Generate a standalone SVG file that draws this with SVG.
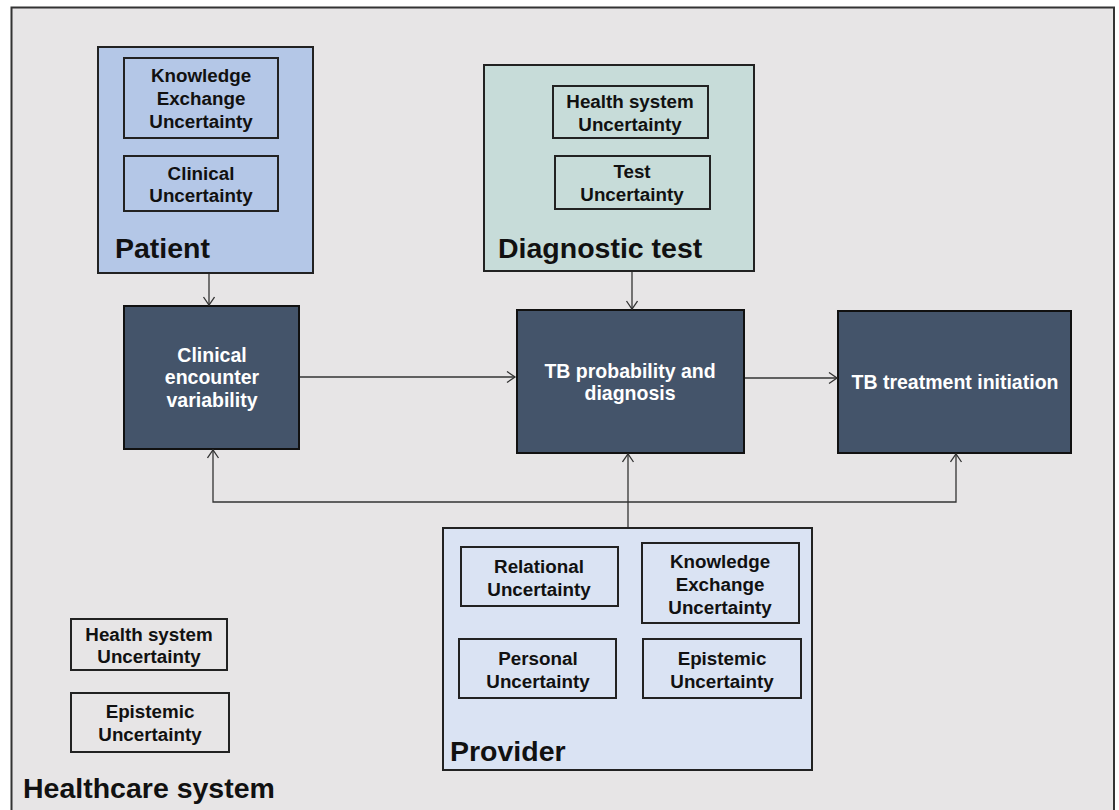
<svg xmlns="http://www.w3.org/2000/svg" width="1119" height="810" viewBox="0 0 1119 810">
<style>
.t{font-family:"Liberation Sans",Arial,sans-serif;font-weight:bold;text-anchor:middle;fill:#111}
.s{font-size:18.8px}
.w{font-size:19.5px;fill:#fff}
.h{font-family:"Liberation Sans",Arial,sans-serif;font-weight:bold;font-size:28.5px;fill:#111}
.inner{fill:none;stroke:#222;stroke-width:2}
.dark{fill:#44546a;stroke:#111;stroke-width:2}
.c{fill:none;stroke:#333;stroke-width:1.3}
</style>
<defs>
<marker id="arr" markerUnits="userSpaceOnUse" markerWidth="14" markerHeight="14" refX="10" refY="6" orient="auto">
<path d="M2,0.5 L10,6 L2,11.5" fill="none" stroke="#333" stroke-width="1.3"/>
</marker>
</defs>
<rect x="0" y="0" width="1119" height="810" fill="#ffffff"/>
<g id="healthcare-system">
<rect x="11.5" y="7.5" width="1102.5" height="812" fill="#e7e5e6" stroke="#333" stroke-width="2"/>
<rect class="inner" x="71" y="619" width="156" height="51"/>
<text class="t s" x="149" y="641">Health system</text>
<text class="t s" x="149" y="663">Uncertainty</text>
<rect class="inner" x="71" y="693" width="158" height="59"/>
<text class="t s" x="150" y="718">Epistemic</text>
<text class="t s" x="150" y="741">Uncertainty</text>
<text class="h" x="23" y="798">Healthcare system</text>
</g>
<g id="patient">
<rect x="98" y="47" width="215" height="226" fill="#b4c7e7" stroke="#222" stroke-width="2"/>
<rect class="inner" x="124" y="58" width="154" height="80"/>
<text class="t s" x="201" y="82">Knowledge</text>
<text class="t s" x="201" y="105">Exchange</text>
<text class="t s" x="201" y="128">Uncertainty</text>
<rect class="inner" x="124" y="156" width="154" height="55"/>
<text class="t s" x="201" y="180">Clinical</text>
<text class="t s" x="201" y="202">Uncertainty</text>
<text class="h" x="115" y="258">Patient</text>
</g>
<g id="diagnostic-test">
<rect x="484" y="65" width="270" height="206" fill="#c7dcd9" stroke="#222" stroke-width="2"/>
<rect class="inner" x="553" y="86" width="155" height="52"/>
<text class="t s" x="630" y="108">Health system</text>
<text class="t s" x="630" y="131">Uncertainty</text>
<rect class="inner" x="555" y="156" width="155" height="53"/>
<text class="t s" x="632" y="178">Test</text>
<text class="t s" x="632" y="201">Uncertainty</text>
<text class="h" x="498" y="258">Diagnostic test</text>
</g>
<g id="provider">
<rect x="443" y="528" width="369" height="242" fill="#dae3f3" stroke="#222" stroke-width="2"/>
<rect class="inner" x="461" y="547" width="157" height="59"/>
<text class="t s" x="539" y="573">Relational</text>
<text class="t s" x="539" y="596">Uncertainty</text>
<rect class="inner" x="642" y="543" width="157" height="80"/>
<text class="t s" x="720" y="568">Knowledge</text>
<text class="t s" x="720" y="591">Exchange</text>
<text class="t s" x="720" y="614">Uncertainty</text>
<rect class="inner" x="459" y="639" width="157" height="59"/>
<text class="t s" x="538" y="665">Personal</text>
<text class="t s" x="538" y="688">Uncertainty</text>
<rect class="inner" x="643" y="639" width="158" height="59"/>
<text class="t s" x="722" y="665">Epistemic</text>
<text class="t s" x="722" y="688">Uncertainty</text>
<text class="h" x="450" y="761">Provider</text>
</g>
<g id="clinical-encounter">
<rect class="dark" x="124" y="306" width="175" height="143"/>
<text class="t w" x="212" y="362">Clinical</text>
<text class="t w" x="212" y="384">encounter</text>
<text class="t w" x="212" y="407">variability</text>
</g>
<g id="tb-probability">
<rect class="dark" x="517" y="310" width="227" height="143"/>
<text class="t w" x="630" y="378">TB probability and</text>
<text class="t w" x="630" y="400">diagnosis</text>
</g>
<g id="tb-treatment">
<rect class="dark" x="838" y="311" width="233" height="142"/>
<text class="t w" x="955" y="389">TB treatment initiation</text>
</g>
<g id="connectors">
<line class="c" x1="209" y1="274" x2="209" y2="305" marker-end="url(#arr)"/>
<line class="c" x1="632" y1="272" x2="632" y2="309" marker-end="url(#arr)"/>
<line class="c" x1="300" y1="377" x2="515" y2="377" marker-end="url(#arr)"/>
<line class="c" x1="745" y1="378" x2="837" y2="378" marker-end="url(#arr)"/>
<line class="c" x1="628" y1="527" x2="628" y2="454" marker-end="url(#arr)"/>
<path class="c" d="M628,502 H213 V450" marker-end="url(#arr)"/>
<path class="c" d="M628,502 H956 V454" stroke="#555" marker-end="url(#arr)"/>
</g>
</svg>
